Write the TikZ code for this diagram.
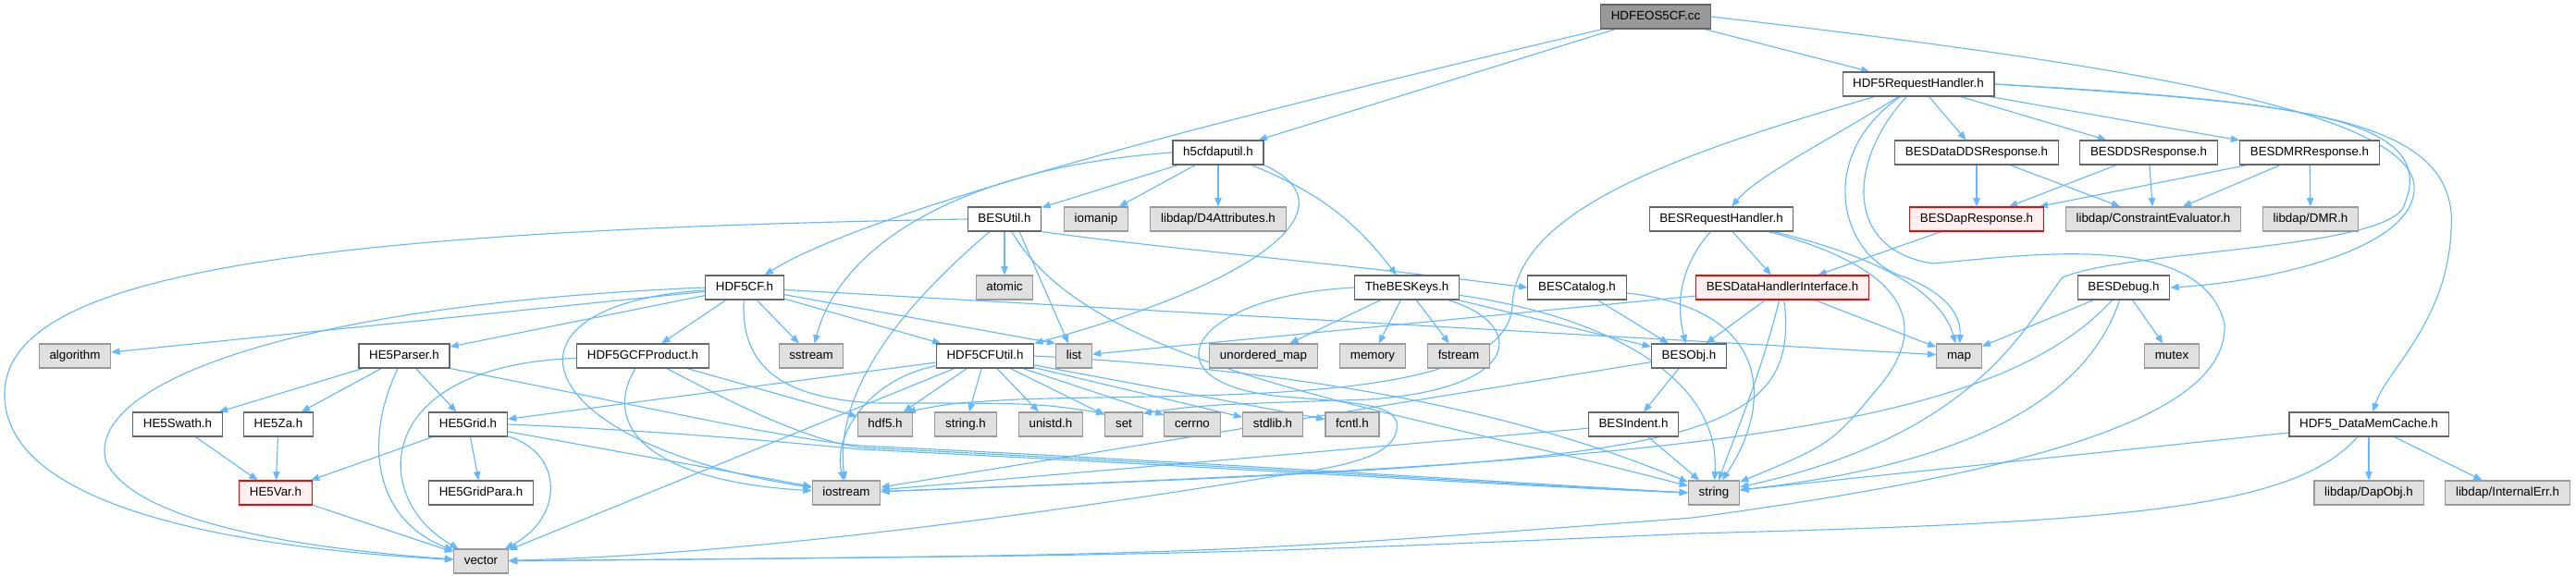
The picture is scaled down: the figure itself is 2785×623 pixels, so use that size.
\documentclass[tikz,border=0pt]{standalone}
\usepackage{fontspec}
\setsansfont{Liberation Sans}
\usepackage{tikz}
\usetikzlibrary{arrows.meta}
\definecolor{depblue}{HTML}{63B8FF}
\definecolor{boxline}{HTML}{666666}
\definecolor{sysfill}{HTML}{E0E0E0}
\definecolor{sysline}{HTML}{999999}
\definecolor{truncfill}{HTML}{FFF0F0}
\definecolor{rootfill}{HTML}{999999}
\pgfdeclarelayer{edges}
\pgfsetlayers{edges,main}

\begin{document}
\begin{tikzpicture}[x=0.75pt,y=-0.75pt,font=\sffamily\fontsize{10}{12}\selectfont,
  box/.style={draw,line width=0.8pt,inner xsep=8.4pt,inner ysep=0pt,minimum height=19.5pt,text height=7.3pt,text depth=1.7pt},
  hdr/.style={box,draw=boxline,fill=white},
  sys/.style={box,draw=sysline,fill=sysfill},
  trunc/.style={box,draw=red,fill=truncfill},
  root/.style={box,draw=boxline,fill=rootfill},
  dep/.style={draw=depblue,line width=0.85pt,-{Triangle[length=7pt,width=5.5pt]}}]
  \useasboundingbox (0,0) rectangle (2785,623);
  % rows of the include graph
  \node[root] (cc) at (1790,18) {HDFEOS5CF.cc};
  \node[hdr] (hrh) at (2074,91) {HDF5RequestHandler.h};
  \node[hdr] (h5util) at (1317,165) {h5cfdaputil.h};
  \node[hdr] (ddsdata) at (2137,165) {BESDataDDSResponse.h};
  \node[hdr] (dds) at (2323,165) {BESDDSResponse.h};
  \node[hdr] (dmrresp) at (2497,165) {BESDMRResponse.h};
  \node[hdr] (besutil) at (1086,237) {BESUtil.h};
  \node[sys] (iomanip) at (1185,237) {iomanip};
  \node[sys] (d4attr) at (1317,237) {libdap/D4Attributes.h};
  \node[hdr] (reqh) at (1861,237) {BESRequestHandler.h};
  \node[trunc] (dapresp) at (2137,237) {BESDapResponse.h};
  \node[sys] (ceval) at (2328,237) {libdap/ConstraintEvaluator.h};
  \node[sys] (dmr) at (2498,237) {libdap/DMR.h};
  \node[hdr] (cf) at (805,311) {HDF5CF.h};
  \node[sys] (atomic) at (1086,311) {atomic};
  \node[hdr] (keys) at (1521,311) {TheBESKeys.h};
  \node[hdr] (catalog) at (1705,311) {BESCatalog.h};
  \node[trunc] (dhi) at (1927,311) {BESDataHandlerInterface.h};
  \node[hdr] (debug) at (2296,311) {BESDebug.h};
  \node[sys] (algorithm) at (81,385) {algorithm};
  \node[hdr] (parser) at (437,385) {HE5Parser.h};
  \node[hdr] (gcf) at (695,385) {HDF5GCFProduct.h};
  \node[sys] (sstream) at (877,385) {sstream};
  \node[hdr] (cfutil) at (1065,385) {HDF5CFUtil.h};
  \node[sys] (list) at (1161,385) {list};
  \node[sys] (umap) at (1366,385) {unordered\_map};
  \node[sys] (memory) at (1484,385) {memory};
  \node[sys] (fstream) at (1577,385) {fstream};
  \node[hdr] (besobj) at (1826,385) {BESObj.h};
  \node[sys] (map) at (2118,385) {map};
  \node[sys] (mutex) at (2348,385) {mutex};
  \node[hdr] (swath) at (192,459) {HE5Swath.h};
  \node[hdr] (za) at (301,459) {HE5Za.h};
  \node[hdr] (grid) at (506,459) {HE5Grid.h};
  \node[sys] (hdf5) at (957,459) {hdf5.h};
  \node[sys] (stringh) at (1044,459) {string.h};
  \node[sys] (unistd) at (1136,459) {unistd.h};
  \node[sys] (set) at (1215,459) {set};
  \node[sys] (cerrno) at (1289,459) {cerrno};
  \node[sys] (stdlib) at (1376,459) {stdlib.h};
  \node[sys] (fcntl) at (1462,459) {fcntl.h};
  \node[hdr] (indent) at (1766,459) {BESIndent.h};
  \node[hdr] (cache) at (2561,459) {HDF5\_DataMemCache.h};
  \node[trunc] (var) at (298,533) {HE5Var.h};
  \node[hdr] (gridpara) at (520,533) {HE5GridPara.h};
  \node[sys] (iostream) at (915,533) {iostream};
  \node[sys] (string) at (1853,533) {string};
  \node[sys] (dapobj) at (2561,533) {libdap/DapObj.h};
  \node[sys] (interr) at (2711,533) {libdap/InternalErr.h};
  \node[sys] (vector) at (520,607) {vector};
  \begin{pgfonlayer}{edges}
  % HDFEOS5CF.cc
  \draw[dep] (cc) .. controls (1400,110) and (950,220) .. (cf);
  \draw[dep] (cc) -- (h5util);
  \draw[dep] (cc) -- (hrh);
  \draw[dep] (cc.east) .. controls (2300,70) and (2600,120) .. (2610,200) .. controls (2615,270) and (2450,305) .. (debug.east);
  % HDF5RequestHandler.h
  \draw[dep] (hrh) .. controls (1980,150) and (1900,190) .. (reqh);
  \draw[dep] (hrh) -- (ddsdata);
  \draw[dep] (hrh) -- (dds);
  \draw[dep] (hrh) -- (dmrresp);
  \draw[dep] (hrh.east) .. controls (2500,110) and (2660,130) .. (2650,250) .. controls (2645,350) and (2580,400) .. (cache);
  \draw[dep] (hrh.east) .. controls (2450,110) and (2640,120) .. (2600,220) .. controls (2590,270) and (2300,270) .. (2230,300) .. controls (2190,350) and (2140,470) .. (string);
  \draw[dep] (hrh) .. controls (2000,170) and (1990,270) .. (2090,285) .. controls (2200,275) and (2380,250) .. (2405,350) .. controls (2410,450) and (2200,510) .. (1830,560) .. controls (1300,600) .. (vector);
  \draw[dep] (hrh) .. controls (1960,170) and (1990,280) .. (2060,300) .. controls (2110,320) and (2120,345) .. (map);
  \draw[dep] (hrh) .. controls (1800,170) and (1640,230) .. (1635,330) .. controls (1630,440) and (1300,425) .. (1100,432) .. controls (1030,436) .. (hdf5.30);
  \draw[dep] (ddsdata) -- (dapresp);
  \draw[dep] (ddsdata) -- (ceval);
  \draw[dep] (dds) -- (dapresp);
  \draw[dep] (dds) -- (ceval);
  \draw[dep] (dmrresp) -- (dapresp);
  \draw[dep] (dmrresp) -- (ceval);
  \draw[dep] (dmrresp) -- (dmr);
  \draw[dep] (dapresp) -- (dhi);
  % BESRequestHandler.h, BESDataHandlerInterface.h
  \draw[dep] (reqh) -- (dhi);
  \draw[dep] (reqh) .. controls (1815,290) and (1812,330) .. (besobj);
  \draw[dep] (reqh) .. controls (2040,280) and (2100,320) .. (map);
  \draw[dep] (reqh) .. controls (2060,290) and (2090,350) .. (2030,420) .. controls (1980,480) .. (string);
  \draw[dep] (dhi) -- (besobj);
  \draw[dep] (dhi) -- (map);
  \draw[dep] (dhi) -- (list);
  \draw[dep] (dhi) .. controls (1905,400) and (1880,460) .. (string);
  \draw[dep] (dhi) .. controls (1950,490) and (1800,500) .. (iostream);
  % BESDebug.h, HDF5_DataMemCache.h
  \draw[dep] (debug) -- (map);
  \draw[dep] (debug) -- (mutex);
  \draw[dep] (debug) .. controls (2260,420) and (2150,500) .. (string);
  \draw[dep] (debug) .. controls (2150,470) and (1800,500) .. (iostream);
  \draw[dep] (cache) -- (string);
  \draw[dep] (cache) .. controls (2480,550) and (2300,565) .. (1830,577) .. controls (1300,600) .. (vector);
  \draw[dep] (cache) -- (dapobj);
  \draw[dep] (cache) -- (interr);
  % h5cfdaputil.h
  \draw[dep] (h5util) -- (besutil);
  \draw[dep] (h5util) -- (iomanip);
  \draw[dep] (h5util) -- (d4attr);
  \draw[dep] (h5util) to[bend left=15] (keys);
  \draw[dep] (h5util.south east) .. controls (1460,220) and (1380,300) .. (cfutil.north east);
  \draw[dep] (h5util.west) .. controls (1050,180) and (910,260) .. (sstream);
  % BESUtil.h
  \draw[dep] (besutil.west) .. controls (300,250) and (0,300) .. (5,430) .. controls (10,560) and (300,595) .. (vector);
  \draw[dep] (besutil) -- (atomic);
  \draw[dep] (besutil.-40) -- (list);
  \draw[dep] (besutil) .. controls (1000,310) and (900,410) .. (iostream);
  \draw[dep] (besutil) .. controls (1180,400) and (1500,440) .. (string);
  \draw[dep] (besutil.south east) .. controls (1250,268) and (1450,285) .. (catalog.west);
  % HDF5CF.h
  \draw[dep] (cf) -- (algorithm);
  \draw[dep] (cf.west) .. controls (300,330) and (90,420) .. (115,500) .. controls (150,570) and (350,595) .. (vector);
  \draw[dep] (cf) -- (parser);
  \draw[dep] (cf) -- (gcf);
  \draw[dep] (cf) -- (sstream);
  \draw[dep] (cf) -- (cfutil);
  \draw[dep] (cf) -- (list.north west);
  \draw[dep] (cf) -- (map);
  \draw[dep] (cf) .. controls (520,330) and (570,480) .. (iostream);
  \draw[dep] (cf) .. controls (800,400) and (850,432) .. (950,436) .. controls (1120,436) .. (set.150);
  % TheBESKeys.h, BESCatalog.h, BESObj.h, BESIndent.h
  \draw[dep] (keys) -- (umap);
  \draw[dep] (keys) -- (memory);
  \draw[dep] (keys) -- (fstream);
  \draw[dep] (keys) -- (besobj);
  \draw[dep] (keys) .. controls (1720,340) and (1860,400) .. (string);
  \draw[dep] (keys) .. controls (1650,350) and (1650,420) .. (1480,432) .. controls (1300,438) .. (set.30);
  \draw[dep] (keys.west) .. controls (1280,320) and (1230,420) .. (1400,430) .. controls (1480,436) and (1515,440) .. (1510,465) .. controls (1505,495) and (1450,505) .. (1380,515) .. controls (1100,560) and (800,600) .. (vector);
  \draw[dep] (catalog) -- (besobj);
  \draw[dep] (catalog) .. controls (1920,335) and (1915,440) .. (string);
  \draw[dep] (besobj) -- (indent);
  \draw[dep] (besobj) -- (iostream);
  \draw[dep] (indent) -- (iostream);
  \draw[dep] (indent) -- (string);
  % HE5 headers
  \draw[dep] (parser) -- (swath);
  \draw[dep] (parser) -- (za);
  \draw[dep] (parser) -- (grid);
  \draw[dep] (parser) .. controls (395,470) and (400,560) .. (vector);
  \draw[dep] (parser.south east) .. controls (700,440) and (850,475) .. (930,482) .. controls (1300,500) and (1600,520) .. (string.west);
  \draw[dep] (gcf) .. controls (400,395) and (400,540) .. (vector);
  \draw[dep] (gcf) .. controls (650,460) and (700,520) .. (iostream);
  \draw[dep] (gcf) -- (hdf5);
  \draw[dep] (gcf) .. controls (800,440) and (870,475) .. (930,484) .. controls (1300,502) and (1600,522) .. (string.west);
  \draw[dep] (grid) -- (var);
  \draw[dep] (grid) -- (gridpara);
  \draw[dep] (grid) .. controls (610,490) and (610,560) .. (vector);
  \draw[dep] (grid) -- (iostream);
  \draw[dep] (grid.east) .. controls (700,465) and (850,478) .. (930,486) .. controls (1300,504) and (1600,524) .. (string.west);
  \draw[dep] (swath) -- (var);
  \draw[dep] (za) -- (var);
  \draw[dep] (var) -- (vector);
  % HDF5CFUtil.h
  \draw[dep] (cfutil) -- (grid);
  \draw[dep] (cfutil) .. controls (940,410) and (900,470) .. (iostream);
  \draw[dep] (cfutil) -- (vector);
  \draw[dep] (cfutil) -- (hdf5);
  \draw[dep] (cfutil) -- (stringh);
  \draw[dep] (cfutil) -- (unistd);
  \draw[dep] (cfutil) -- (set);
  \draw[dep] (cfutil) -- (cerrno);
  \draw[dep] (cfutil) -- (stdlib);
  \draw[dep] (cfutil) -- (fcntl);
  \draw[dep] (cfutil.east) .. controls (1500,405) and (1700,470) .. (string);
  \end{pgfonlayer}
\end{tikzpicture}
\end{document}
